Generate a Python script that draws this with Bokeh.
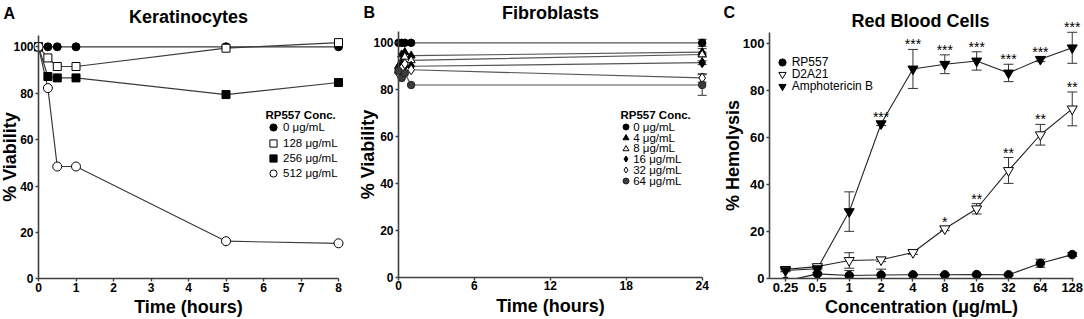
from bokeh.plotting import figure
from bokeh.layouts import row
from bokeh.models import (ColumnDataSource, Label, Legend, LegendItem, Whisker,
                          TeeHead, FixedTicker, Range1d, BoxAnnotation)
from bokeh.core.properties import value
from bokeh.embed import file_html
from bokeh.resources import INLINE

FONT = "Liberation Sans"

# ---------------- data ----------------
# Panel A: Keratinocytes
a_time = [0, 0.25, 0.5, 1, 5, 8]
a_c0 = [100, 100, 100, 100, 100, 100]
a_c128 = [100, 95.2, 91.5, 91.5, 99.4, 101.8]
a_c256 = [100, 87.2, 86.6, 86.6, 79.4, 84.6]
a_c512 = [100, 82.2, 48.4, 48.4, 16.2, 15.3]
a_labels = ["0 μg/mL", "128 μg/mL", "256 μg/mL", "512 μg/mL"]

# Panel B: Fibroblasts
b_time = [0, 0.25, 0.5, 1, 24]
b_c0 = [100, 100, 100, 100, 100]
b_c4 = [90, 95, 96, 94.5, 96]
b_c8 = [88, 92, 94, 92.5, 95]
b_c16 = [89, 91, 90, 90, 91.5]
b_c32 = [87, 89, 91, 88.5, 85]
b_c64 = [88, 85, 87, 82, 82]
b_err24 = [1.5, 1.5, 1.0, 0.8, 1.8, 4.4]
b_labels = ["0 μg/mL", "4 μg/mL", "8 μg/mL", "16 μg/mL", "32 μg/mL", "64 μg/mL"]

# Panel C: Red Blood Cells
c_conc = ["0.25", "0.5", "1", "2", "4", "8", "16", "32", "64", "128"]
c_rp557 = [-1.0, 2.1, 1.4, 1.6, 1.7, 1.7, 1.8, 1.7, 6.6, 10.3]
c_rp557_err = [0, 0.5, 2.1, 2.5, 0.3, 0.3, 0.3, 0.3, 1.7, 0.8]
c_d2a21 = [4.0, 5.2, 7.8, 8.1, 11.2, 21.3, 29.8, 46.1, 61.3, 72.3]
c_d2a21_err = [0.8, 0.8, 3.3, 0.8, 0.8, 0.8, 2.2, 5.5, 4.4, 7.2]
c_amph = [3.5, 4.3, 28.6, 66.0, 89.3, 91.3, 92.7, 87.6, 93.4, 98.3]
c_amph_err = [0.5, 0.5, 8.4, 0.8, 8.3, 4.0, 3.9, 3.7, 1.0, 6.6]
c_d2a21_sig = ["", "", "", "", "", "*", "**", "**", "**", "**"]
c_amph_sig = ["", "", "", "***", "***", "***", "***", "***", "***", "***"]
c_labels = ["RP557", "D2A21", "Amphotericin B"]

LINE = "#3a3a3a"
AXC = "#404040"
FH = 319  # frame height = whole figure height


class Panel:
    """pixel layout helper: page px <-> data for one figure"""
    def __init__(self, left, width, x0px, sx, y0px, sy):
        self.left, self.width, self.x0px, self.sx, self.y0px, self.sy = left, width, x0px, sx, y0px, sy

    def X(self, px):
        return (px - self.x0px) / self.sx

    def Y(self, py):
        return (self.y0px - py) / self.sy

    def make(self):
        p = figure(frame_width=self.width, frame_height=FH, output_backend="svg",
                   toolbar_location=None,
                   x_range=Range1d(self.X(self.left), self.X(self.left + self.width)),
                   y_range=Range1d(self.Y(FH), self.Y(0)),
                   min_border_left=0, min_border_right=0, min_border_top=0, min_border_bottom=0)
        p.xgrid.visible = False
        p.ygrid.visible = False
        p.outline_line_color = None
        return p


def style_axes(p, xticks, ybounds, xbounds, xfix, yfix, xlabel, ylabel, ystand, tsize,
               overrides=None):
    for ax in (p.xaxis[0], p.yaxis[0]):
        ax.axis_line_color = AXC
        ax.axis_line_width = 1.6
        ax.major_tick_line_color = AXC
        ax.major_tick_line_width = 1.4
        ax.major_tick_out = 3
        ax.major_tick_in = 0
        ax.minor_tick_line_color = None
        ax.major_label_text_font = FONT
        ax.major_label_text_font_size = tsize
        ax.major_label_text_font_style = "bold"
        ax.major_label_text_color = "black"
        ax.axis_label_text_font = FONT
        ax.axis_label_text_font_size = "18px"
        ax.axis_label_text_font_style = "bold"
        ax.axis_label_text_color = "black"
    p.xaxis[0].major_label_standoff = 1
    p.yaxis[0].major_label_standoff = 2
    p.xaxis[0].ticker = FixedTicker(ticks=xticks)
    p.yaxis[0].ticker = FixedTicker(ticks=[0, 20, 40, 60, 80, 100])
    p.xaxis[0].bounds = xbounds
    p.yaxis[0].bounds = ybounds
    p.xaxis[0].fixed_location = xfix
    p.yaxis[0].fixed_location = yfix
    p.xaxis[0].axis_label = xlabel
    p.yaxis[0].axis_label = ylabel
    p.xaxis[0].axis_label_standoff = 2
    p.yaxis[0].axis_label_standoff = ystand
    if overrides:
        p.xaxis[0].major_label_overrides = overrides


def add_legend_rows(p, P, renderers, labels, gx, ys, fsize, gsz, standoff):
    """one single-row legend per item, positioned in page pixels"""
    for r, lab, cy in zip(renderers, labels, ys):
        lg = Legend(items=[LegendItem(label=lab, renderers=[r])],
                    location=(gx - gsz / 2 - P.left, FH - (cy + gsz / 2)),
                    label_text_font=FONT, label_text_font_size=fsize, label_text_color="black",
                    glyph_width=gsz, glyph_height=gsz, label_height=gsz,
                    spacing=0, label_standoff=standoff, padding=0, margin=0,
                    border_line_color=None, background_fill_alpha=0)
        p.add_layout(lg)


def txt(p, x, y, t, size, align="center", style="bold"):
    p.add_layout(Label(x=x, y=y, text=t, text_align=align, text_baseline="middle",
                       text_font=FONT, text_font_size=size, text_font_style=style,
                       text_color="black"))


# ---------------- Panel A ----------------
PA = Panel(0, 358, 38, 37.5, 278.3, 2.32)
pa = PA.make()
style_axes(pa, list(range(9)), (0, 104.7), (0, 8), 0, 0, "Time (hours)", "% Viability", -10,
           "12px")

specs_a = [
    (a_c0, "circle", "black", 8),
    (a_c128, "square", "white", 8),
    (a_c256, "square", "black", 8),
    (a_c512, "circle", "white", 9),
]
for ys, mk, fc, sz in specs_a:
    pa.line(a_time, ys, line_color=LINE, line_width=1.2)
rend_a = [pa.scatter(a_time, ys, marker=mk, size=sz, fill_color=fc, line_color="black", line_width=1)
          for ys, mk, fc, sz in specs_a]
add_legend_rows(pa, PA, rend_a, a_labels, 273, [127, 142.5, 157.5, 173], "11.5px", 18, 1)
txt(pa, PA.X(265), PA.Y(114), "RP557 Conc.", "11.5px", "left")
txt(pa, PA.X(188), PA.Y(16.5), "Keratinocytes", "18px")
txt(pa, PA.X(3), PA.Y(12.5), "A", "16px", "left")

# ---------------- Panel B ----------------
PB = Panel(358, 356, 398, 303.7 / 24, 276.7, 2.344)
pb = PB.make()
style_axes(pb, [0, 6, 12, 18, 24], (0, 104.7), (0, 24), 0, 0, "Time (hours)", "% Viability", -8,
           "12px")

series_b = [b_c0, b_c4, b_c8, b_c16, b_c32, b_c64]
specs_b = [
    ("circle", "black", "black", 7.5),
    ("triangle", "black", "black", 8),
    ("triangle", "white", "black", 8),
    ("diamond", "black", "black", 10),
    ("diamond", "white", "black", 10),
    ("circle", "#3c3c3c", "#222222", 7.5),
]
for ys in series_b:
    pb.line(b_time, ys, line_color="#555555", line_width=1.2)
wb = ColumnDataSource(dict(x=[b_time[-1]] * len(series_b),
                           upper=[s[-1] + e for s, e in zip(series_b, b_err24)],
                           lower=[s[-1] - e for s, e in zip(series_b, b_err24)]))
pb.add_layout(Whisker(source=wb, base="x", upper="upper", lower="lower", dimension="height",
                      line_color="#333333", line_width=1,
                      upper_head=TeeHead(size=9, line_color="#333333", line_width=1),
                      lower_head=TeeHead(size=9, line_color="#333333", line_width=1)))
rend_b = [pb.scatter(b_time, ys, marker=mk, size=sz, fill_color=fc, line_color=lc, line_width=1)
          for ys, (mk, fc, lc, sz) in zip(series_b, specs_b)]
add_legend_rows(pb, PB, rend_b, b_labels, 625.7, [126.7, 137.5, 148, 158.7, 169.7, 180.7],
                "11.5px", 15, 0)
txt(pb, PB.X(620), PB.Y(114), "RP557 Conc.", "11.5px", "left")
txt(pb, PB.X(550), PB.Y(12), "Fibroblasts", "18px")
txt(pb, PB.X(363), PB.Y(12), "B", "16px", "left")

# ---------------- Panel C ----------------
PC = Panel(714, 370, 785, 31.86, 278.3, 2.35)
pc = PC.make()
xi = list(range(len(c_conc)))
yfix_c = PC.X(769)
style_axes(pc, xi, (0, 105), (yfix_c, 9.04), 0, yfix_c, "Concentration (μg/mL)", "% Hemolysis", -3,
           "13px", overrides={i: s for i, s in enumerate(c_conc)})

series_c = [(c_rp557, c_rp557_err), (c_d2a21, c_d2a21_err), (c_amph, c_amph_err)]
specs_c = [("circle", "black", 8.5), ("inverted_triangle", "white", 10),
           ("inverted_triangle", "black", 10)]
for ys, es in series_c:
    pc.line(xi, ys, line_color="#222222", line_width=1.1)
for ys, es in series_c:
    src = ColumnDataSource(dict(x=xi, upper=[v + e for v, e in zip(ys, es)],
                                lower=[v - e for v, e in zip(ys, es)]))
    pc.add_layout(Whisker(source=src, base="x", upper="upper", lower="lower", dimension="height",
                          line_color="#333333", line_width=1,
                          upper_head=TeeHead(size=10, line_color="#333333", line_width=1),
                          lower_head=TeeHead(size=10, line_color="#333333", line_width=1)))
rend_c = [pc.scatter(xi, ys, marker=mk, size=sz, fill_color=fc, line_color="black", line_width=1)
          for (ys, es), (mk, fc, sz) in zip(series_c, specs_c)]
# values below the axis are hidden, as in the original (axis clips at 0)
pc.add_layout(BoxAnnotation(top=0, fill_color="white", fill_alpha=1, line_alpha=0, level="glyph"))
add_legend_rows(pc, PC, rend_c, c_labels, 781.7, [61.5, 73.5, 85.5], "12px", 18, 1)
for (ys, es), sig in ((series_c[1], c_d2a21_sig), (series_c[2], c_amph_sig)):
    pc.text(x=xi, y=[v + e for v, e in zip(ys, es)], text=sig, text_align="center",
            text_baseline="alphabetic", text_font=value(FONT), text_font_size="14px",
            text_color="black", y_offset=-5)
txt(pc, PC.X(920), PC.Y(20.5), "Red Blood Cells", "18px")
txt(pc, PC.X(723), PC.Y(12), "C", "16px", "left")

layout = row(pa, pb, pc, spacing=0)
open("out.html", "w").write(file_html(layout, INLINE))
